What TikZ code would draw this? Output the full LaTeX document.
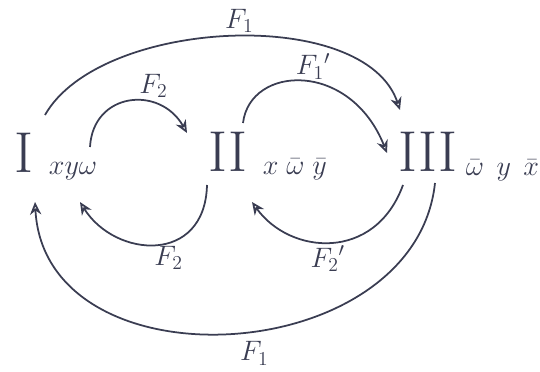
\RequirePackage{fix-cm}
\documentclass[tikz,border=0pt]{standalone}
\usepackage{amsmath,amssymb}
\usetikzlibrary{arrows.meta,calc}
\definecolor{ink}{HTML}{3A3D52}

\begin{document}
\begin{tikzpicture}[x=0.025cm, y=-0.025cm, color=ink, line width=1.25pt,
  num/.style={font=\fontsize{41}{41}\selectfont, inner sep=0pt},
  var/.style={font=\fontsize{20}{20}\selectfont, inner sep=0pt, anchor=base west},
  lab/.style={font=\fontsize{20}{20}\selectfont, inner sep=2pt},
  >={Stealth[open,length=9pt,width=8pt]}]
\useasboundingbox (0,0) rectangle (540,372);
\node[num] (n1) at (24,153) {I};
\node[num] (n2) at (228,152) {II};
\node[num] (n3) at (428,152) {III};
\node[var] (v1) at (48,175) {$xy\omega$};
\node[var] (v2) at (262,175) {$x\;\bar{\omega}\;\bar{y}$};
\node[var] (v3) at (465,176) {$\bar{\omega}\;\,y\;\,\bar{x}$};
% upper arcs
\draw[->] ($(n1)+(21,-38)$) .. controls +(55,-97) and +(-35,-105) .. node[lab,above,pos=.52] {$F_1$} ($(n3)+(-28,-42)$);
\draw[->] ($(n1)+(66,-6)$) .. controls +(3,-55) and +(-27,-48) .. node[lab,above right,pos=.55] {$F_2$} ($(n2)+(-41,-19)$);
\draw[->] ($(n2)+(15,-29)$) .. controls +(7,-58) and +(-37,-93) .. node[lab,above,pos=.55] {$F_1{}'$} ($(n3)+(-41,1)$);
% lower arcs
\draw[->] ($(n2)+(-21,33)$) .. controls +(-2,80) and +(35,56) .. node[lab,below,pos=.42] {$F_2$} ($(n1)+(56,49)$);
\draw[->] ($(n3)+(-25,33)$) .. controls +(-28,77) and +(38,53) .. node[lab,below,pos=.52] {$F_2{}'$} ($(n2)+(24,50)$);
\draw[->] ($(n3)+(7,31)$) .. controls +(-20,187) and +(10,188) .. node[lab,below=5pt,pos=.46] {$F_1$} ($(n1)+(11,49)$);
\end{tikzpicture}
\end{document}
